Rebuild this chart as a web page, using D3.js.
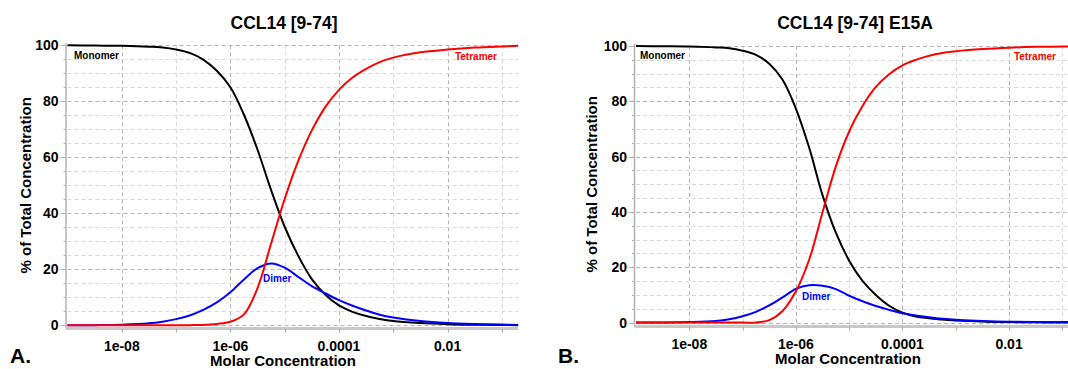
<!DOCTYPE html>
<html>
<head>
<meta charset="utf-8">
<script src="https://cdn.jsdelivr.net/npm/d3@7"></script>
<style>
  body { margin: 0; background: #fff; }
  svg { display: block; font-family: "Liberation Sans", Arial, sans-serif; font-weight: bold; }
</style>
</head>
<body>
<svg id="chart" width="1068" height="369"></svg>
<script>
// log10 of molar concentration, shared by both panels
var logMolar = [-9, -8.5, -8, -7.5, -7.25, -7, -6.75, -6.5, -6.25, -6, -5.75, -5.5, -5.25, -5,
    -4.75, -4.5, -4.25, -4, -3.75, -3.5, -3.25, -3, -2.5, -2, -1.5, -1, -0.7];

// panel A: CCL14 [9-74]
var monomerA = [100, 99.9, 99.8, 99.5, 99.2, 98.5, 97.3, 94.9, 90.9, 85.0, 75.2, 62.7, 48.3, 35.2,
    24.8, 16.5, 10.9, 7.1, 4.8, 3.3, 2.25, 1.5, 0.8, 0.4, 0.2, 0.1, 0.05];
var dimerA = [0, 0.05, 0.2, 0.7, 1.3, 2.2, 3.5, 5.5, 8.2, 11.8, 16.4, 20.4, 22.1, 20.6,
    17.3, 14.0, 11.4, 9.0, 7.0, 5.3, 3.8, 2.8, 1.5, 0.8, 0.45, 0.25, 0.15];
var tetramerA = [0, 0, 0, 0, 0, 0, 0.05, 0.15, 0.5, 1.25, 3.9, 13.3, 29.2, 45.1,
    58.7, 69.6, 78.0, 84.1, 88.5, 91.6, 94.0, 95.6, 97.5, 98.5, 99.2, 99.6, 99.8];

// panel B: CCL14 [9-74] E15A
var monomerB = [100, 99.9, 99.8, 99.5, 99.2, 98.3, 96.8, 93.6, 87.8, 77.4, 63.2, 46.1, 32.5, 22.4,
    15.1, 10.0, 6.1, 3.6, 2.2, 1.6, 1.1, 0.8, 0.4, 0.2, 0.1, 0.05, 0.03];
var dimerB = [0, 0.05, 0.2, 0.6, 1.2, 2.3, 3.9, 6.2, 9.1, 12.2, 13.5, 13.3, 12.1, 9.7,
    7.7, 6.0, 4.6, 3.4, 2.6, 1.9, 1.35, 1.05, 0.6, 0.35, 0.25, 0.2, 0.15];
var tetramerB = [0, 0, 0, 0, 0, 0, 0.05, 0.9, 4.2, 11.3, 22.8, 39.9, 56.5, 69.1,
    78.3, 85.2, 89.8, 93.0, 95.0, 96.5, 97.5, 98.1, 98.9, 99.4, 99.7, 99.8, 99.9];

var xTicks = [1e-8, 1e-6, 1e-4, 1e-2];
var xTickLabels = ["1e-08", "1e-06", "0.0001", "0.01"];
var yTicks = [0, 20, 40, 60, 80, 100];
var seriesNames = ["Monomer", "Dimer", "Tetramer"];
var seriesColors = ["#000000", "#0000ff", "#ff0000"];

var svg = d3.select("#chart");

function drawPanel(p) {
    var x = d3.scaleLog().domain([1e-9, 0.2]).range([p.left, p.right]);
    var y = d3.scaleLinear().domain([0, 100]).range([p.bottom, p.top]);
    var g = svg.append("g");

    // vertical grid, one per decade
    var decades = d3.range(-8, 0).map(function (e) { return Math.pow(10, e); });
    g.selectAll(".vgrid").data(decades).enter().append("line")
        .attr("x1", function (d) { return Math.round(x(d)) + 0.5; })
        .attr("x2", function (d) { return Math.round(x(d)) + 0.5; })
        .attr("y1", y(100)).attr("y2", y(0))
        .attr("stroke", function (d, i) { return i % 2 == 0 ? "#b4b4b4" : "#dadada"; })
        .attr("stroke-dasharray", "4,3");

    // horizontal grid every 5 %
    var levels = d3.range(0, 101, 5);
    g.selectAll(".hgrid").data(levels).enter().append("line")
        .attr("x1", p.left).attr("x2", p.right)
        .attr("y1", function (d) { return Math.round(y(d)) + 0.5; })
        .attr("y2", function (d) { return Math.round(y(d)) + 0.5; })
        .attr("stroke", function (d) { return d % 20 == 0 ? "#b4b4b4" : "#dadada"; })
        .attr("stroke-dasharray", "4,3");

    // y axis line + ticks
    g.append("line")
        .attr("x1", p.left - 1.5).attr("x2", p.left - 1.5)
        .attr("y1", y(100) - 2).attr("y2", p.axisY)
        .attr("stroke", "#b0b0b0").attr("stroke-width", 1.5);
    g.selectAll(".ytick").data(levels).enter().append("line")
        .attr("x1", function (d) { return p.left - (d % 20 == 0 ? 7 : 4); })
        .attr("x2", p.left - 1.5)
        .attr("y1", function (d) { return Math.round(y(d)) + 0.5; })
        .attr("y2", function (d) { return Math.round(y(d)) + 0.5; })
        .attr("stroke", "#b0b0b0");
    g.selectAll(".ylab").data(yTicks).enter().append("text")
        .attr("x", p.left - 9)
        .attr("y", function (d) { return y(d); })
        .attr("dy", "0.36em")
        .attr("text-anchor", "end")
        .attr("font-size", 14)
        .text(function (d) { return d; });

    // x axis band + ticks
    g.append("line")
        .attr("x1", p.left - 1.5).attr("x2", p.right)
        .attr("y1", p.axisY).attr("y2", p.axisY)
        .attr("stroke", "#c8c8c8").attr("stroke-width", 3);
    g.selectAll(".xtick").data(decades).enter().append("line")
        .attr("x1", function (d) { return Math.round(x(d)) + 0.5; })
        .attr("x2", function (d) { return Math.round(x(d)) + 0.5; })
        .attr("y1", p.axisY).attr("y2", p.axisY + 4)
        .attr("stroke", "#b0b0b0");
    g.selectAll(".xlab").data(xTicks).enter().append("text")
        .attr("x", function (d) { return x(d); })
        .attr("y", p.axisY + 22)
        .attr("text-anchor", "middle")
        .attr("font-size", 14)
        .text(function (d, i) { return xTickLabels[i]; });

    // curves
    var line = d3.line()
        .x(function (d, i) { return x(Math.pow(10, logMolar[i])); })
        .y(function (d) { return y(Math.max(0, d)); })
        .curve(d3.curveCatmullRom.alpha(0.5));
    p.series.forEach(function (s, k) {
        g.append("path")
            .attr("d", line(s))
            .attr("fill", "none")
            .attr("stroke", seriesColors[k])
            .attr("stroke-width", 2)
            .attr("stroke-linejoin", "round");
    });

    // series labels
    p.labels.forEach(function (l, k) {
        g.append("text")
            .attr("x", l[0]).attr("y", l[1])
            .attr("text-anchor", l[2])
            .attr("font-size", 10)
            .attr("fill", seriesColors[k])
            .text(seriesNames[k]);
    });

    // titles
    g.append("text")
        .attr("x", p.titleX).attr("y", 29)
        .attr("text-anchor", "middle")
        .attr("font-size", 17.5)
        .text(p.title);
    g.append("text")
        .attr("transform", "translate(" + p.yTitleX + "," + ((y(0) + y(100)) / 2) + ") rotate(-90)")
        .attr("text-anchor", "middle")
        .attr("font-size", 15)
        .text("% of Total Concentration");
    g.append("text")
        .attr("x", p.xTitleX).attr("y", p.axisY + 37)
        .attr("text-anchor", "middle")
        .attr("font-size", 15)
        .text("Molar Concentration");
    g.append("text")
        .attr("x", p.letterX).attr("y", 363)
        .attr("font-size", 21)
        .text(p.letter);
}

drawPanel({
    left: 67.5, right: 518.2, top: 45.3, bottom: 325.3, axisY: 328.5,
    series: [monomerA, dimerA, tetramerA],
    labels: [[74, 59, "start"], [263, 282, "start"], [497, 60, "end"]],
    title: "CCL14 [9-74]", titleX: 284, yTitleX: 31, xTitleX: 283, letter: "A.", letterX: 10
});
drawPanel({
    left: 636, right: 1078.4, top: 46, bottom: 322.6, axisY: 326.5,
    series: [monomerB, dimerB, tetramerB],
    labels: [[640, 59, "start"], [802, 300, "start"], [1056, 60, "end"]],
    title: "CCL14 [9-74] E15A", titleX: 855, yTitleX: 597, xTitleX: 848, letter: "B.", letterX: 558
});
</script>
</body>
</html>
